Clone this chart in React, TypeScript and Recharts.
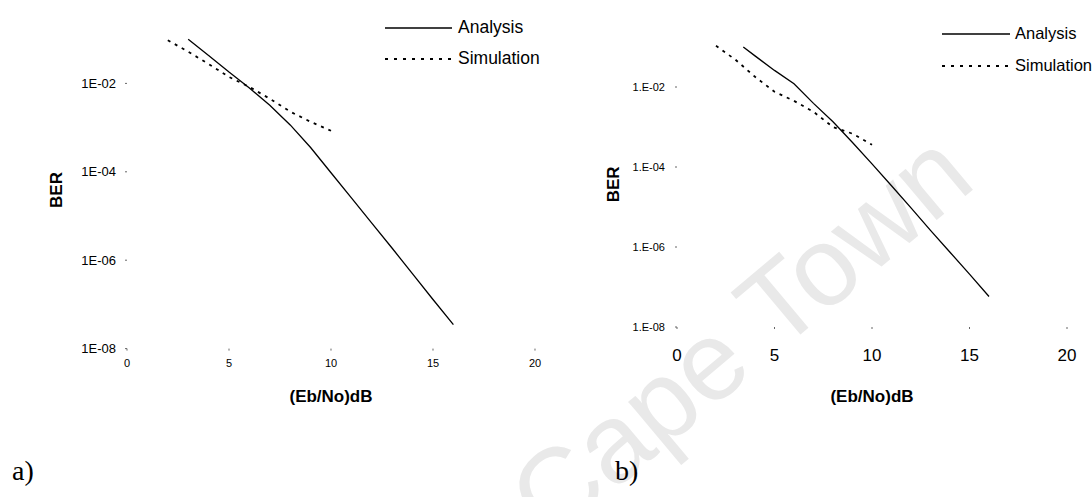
import React from 'react';
import { LineChart, Line, XAxis, YAxis, Legend, Label } from 'recharts';

// Panel a) — BER versus Eb/No (dB)
const snrAnalysisA = [3, 4, 5, 6, 7, 8, 9, 10, 11, 12, 13, 14, 15, 16];
const berAnalysisA = [1.0e-1, 4.3e-2, 1.8e-2, 7.9e-3, 3.2e-3, 1.15e-3, 3.55e-4, 9.5e-5, 2.57e-5, 6.9e-6, 1.86e-6, 4.9e-7, 1.29e-7, 3.47e-8];
const snrSimulationA = [2, 3, 4, 5, 6, 7, 8, 9, 10];
const berSimulationA = [9.5e-2, 5.2e-2, 2.75e-2, 1.4e-2, 8.3e-3, 4.5e-3, 2.3e-3, 1.35e-3, 8.5e-4];

// Panel b)
const snrAnalysisB = [3.4, 4, 5, 6, 7, 8, 9, 10, 11, 12, 13, 14, 15, 16];
const berAnalysisB = [1.0e-1, 6.0e-2, 2.6e-2, 1.2e-2, 3.9e-3, 1.35e-3, 4.1e-4, 1.2e-4, 3.4e-5, 9.5e-6, 2.6e-6, 7.4e-7, 2.1e-7, 5.8e-8];
const snrSimulationB = [2, 3, 4, 5, 6, 7, 8, 9, 10];
const berSimulationB = [1.07e-1, 4.8e-2, 1.8e-2, 7.6e-3, 4.5e-3, 2.4e-3, 1.0e-3, 6.8e-4, 3.6e-4];

const snrTicks = [0, 5, 10, 15, 20];
const berTicks = [1e-8, 1e-6, 1e-4, 1e-2];
const berTickLabelsA = ['1E-08', '1E-06', '1E-04', '1E-02'];
const berTickLabelsB = ['1.E-08', '1.E-06', '1.E-04', '1.E-02'];
const seriesNames = ['Analysis', 'Simulation'];
const panelLabels = ['a)', 'b)'];

const SANS = '"Liberation Sans", Arial, sans-serif';
const SERIF = '"Liberation Serif", "Times New Roman", serif';

const toPoints = (xs: number[], ys: number[]) => xs.map((x, i) => ({ x, ber: ys[i] }));

type PanelProps = {
  left: number;
  top: number;
  plotW: number;
  plotH: number;
  yAxisW: number;
  xAxisH: number;
  analysis: { x: number; ber: number }[];
  simulation: { x: number; ber: number }[];
  yLabels: string[];
  yTickFont: number;
  yTickMargin: number;
  xTickFont: number;
  xTickMargin: number;
  xTitleOffset: number;
  berTitle: { dx: number; dy: number };
  legend: { left: number; top: number; lineLen: number; gap: number; rowH: number; fontSize: number };
};

const LegendBox = ({ lineLen, gap, rowH, fontSize }: { lineLen: number; gap: number; rowH: number; fontSize: number }) => (
  <div style={{ fontFamily: SANS, fontSize, color: '#000', lineHeight: 1 }}>
    {seriesNames.map((name, i) => (
      <div key={name} style={{ display: 'flex', alignItems: 'center', height: rowH }}>
        <svg width={lineLen} height={6} style={{ display: 'block' }}>
          <line
            x1={0}
            y1={3}
            x2={lineLen}
            y2={3}
            stroke="#000"
            strokeWidth={i === 0 ? 1.3 : 1.8}
            strokeDasharray={i === 0 ? undefined : '3 6'}
          />
        </svg>
        <span style={{ marginLeft: gap, whiteSpace: 'nowrap' }}>{name}</span>
      </div>
    ))}
  </div>
);

const Panel = (p: PanelProps) => {
  const top = 20;
  const width = p.yAxisW + p.plotW + 10;
  const height = top + p.plotH + p.xAxisH;
  return (
    <div style={{ position: 'absolute', left: p.left, top: p.top, width, height }}>
      <LineChart width={width} height={height} margin={{ top, right: 10, bottom: 0, left: 0 }}>
        <XAxis
          type="number"
          dataKey="x"
          domain={[0, 20]}
          ticks={snrTicks}
          allowDataOverflow
          axisLine={false}
          tickLine={{ stroke: '#666' }}
          tickSize={2}
          tickMargin={p.xTickMargin}
          height={p.xAxisH}
          tick={{ fontSize: p.xTickFont, fill: '#000', fontFamily: SANS }}
        >
          <Label
            value="(Eb/No)dB"
            position="insideTop"
            offset={p.xTitleOffset}
            style={{ fontFamily: SANS, fontSize: 17, fontWeight: 'bold', fill: '#000' }}
          />
        </XAxis>
        <YAxis
          type="number"
          dataKey="ber"
          scale="log"
          domain={[1e-8, 1]}
          ticks={berTicks}
          allowDataOverflow
          axisLine={false}
          tickLine={{ stroke: '#666' }}
          tickSize={2}
          tickMargin={p.yTickMargin}
          width={p.yAxisW}
          tick={{ fontSize: p.yTickFont, fill: '#000', fontFamily: SANS }}
          tickFormatter={(v: number) => p.yLabels[berTicks.findIndex((t) => Math.abs(Math.log10(t) - Math.log10(v)) < 1e-6)] ?? ''}
        >
          <Label
            content={({ viewBox }: any) => {
              const x = viewBox.x + p.berTitle.dx;
              const y = viewBox.y + p.berTitle.dy;
              return (
                <text
                  x={x}
                  y={y}
                  transform={`rotate(-90 ${x} ${y})`}
                  textAnchor="middle"
                  dominantBaseline="central"
                  style={{ fontFamily: SANS, fontSize: 17, fontWeight: 'bold', fill: '#000' }}
                >
                  BER
                </text>
              );
            }}
          />
        </YAxis>
        <Legend
          layout="horizontal"
          verticalAlign="middle"
          align="center"
          wrapperStyle={{ left: p.legend.left, top: p.legend.top, width: 220 }}
          content={() => (
            <LegendBox lineLen={p.legend.lineLen} gap={p.legend.gap} rowH={p.legend.rowH} fontSize={p.legend.fontSize} />
          )}
        />
        <Line
          name={seriesNames[0]}
          data={p.analysis}
          dataKey="ber"
          type="linear"
          stroke="#000"
          strokeWidth={1.3}
          dot={false}
          isAnimationActive={false}
        />
        <Line
          name={seriesNames[1]}
          data={p.simulation}
          dataKey="ber"
          type="linear"
          stroke="#000"
          strokeWidth={1.8}
          strokeDasharray="3 5"
          dot={false}
          isAnimationActive={false}
        />
      </LineChart>
    </div>
  );
};

export default function App() {
  return (
    <div style={{ position: 'absolute', left: 0, top: 0, width: 1092, height: 497, overflow: 'hidden', background: '#fff' }}>
      <svg width={1092} height={497} style={{ position: 'absolute', left: 0, top: 0 }}>
        <text
          x={740}
          y={335}
          textAnchor="middle"
          dominantBaseline="central"
          transform="rotate(-40 740 335)"
          style={{ fontFamily: SANS, fontSize: 112, fill: '#e9e9e9' }}
        >
          Cape Town
        </text>
      </svg>
      <Panel
        left={27}
        top={-25.1}
        plotW={408}
        plotH={353.6}
        yAxisW={100}
        xAxisH={70}
        analysis={toPoints(snrAnalysisA, berAnalysisA)}
        simulation={toPoints(snrSimulationA, berSimulationA)}
        yLabels={berTickLabelsA}
        yTickFont={13}
        yTickMargin={9}
        xTickFont={11}
        xTickMargin={9}
        xTitleOffset={41.8}
        berTitle={{ dx: 30, dy: 195 }}
        legend={{ left: 358, top: 37.3, lineLen: 67, gap: 6, rowH: 31, fontSize: 17.5 }}
      />
      <Panel
        left={577}
        top={-13.3}
        plotW={390}
        plotH={320}
        yAxisW={100}
        xAxisH={90}
        analysis={toPoints(snrAnalysisB, berAnalysisB)}
        simulation={toPoints(snrSimulationB, berSimulationB)}
        yLabels={berTickLabelsB}
        yTickFont={11}
        yTickMargin={10}
        xTickFont={17}
        xTickMargin={20}
        xTitleOffset={62.6}
        berTitle={{ dx: 37, dy: 177.3 }}
        legend={{ left: 365, top: 30.8, lineLen: 68, gap: 5, rowH: 32, fontSize: 16.5 }}
      />
      <div style={{ position: 'absolute', left: 12, top: 455, fontFamily: SERIF, fontSize: 28, color: '#000' }}>{panelLabels[0]}</div>
      <div style={{ position: 'absolute', left: 615, top: 455, fontFamily: SERIF, fontSize: 28, color: '#000' }}>{panelLabels[1]}</div>
    </div>
  );
}
